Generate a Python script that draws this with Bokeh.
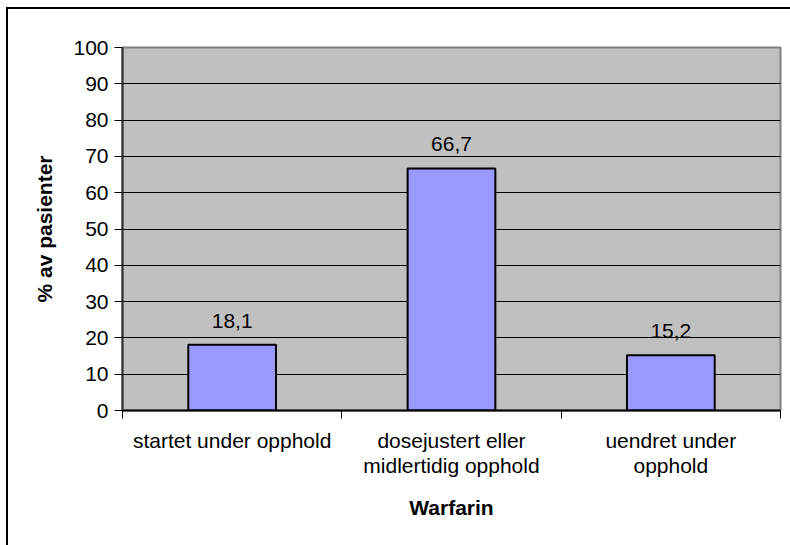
from bokeh.plotting import figure
from bokeh.models import ColumnDataSource, FixedTicker, Range1d, InlineStyleSheet
from bokeh.core.properties import value
from bokeh.embed import file_html
from bokeh.resources import INLINE

# Warfarin status during stay, share of patients (%)
categories = ["startet under opphold",
              "dosejustert eller\nmidlertidig opphold",
              "uendret under\nopphold"]
percent = [18.1, 66.7, 15.2]
value_labels = ["18,1", "66,7", "15,2"]
y_ticks = list(range(0, 101, 10))

FONT = "Liberation Sans"
FS = "21px"

centers = [i + 0.5 for i in range(len(categories))]
source = ColumnDataSource(dict(x=centers, top=percent, label=value_labels))

p = figure(width=790, height=545, output_backend="svg", toolbar_location=None,
           x_range=Range1d(0, len(categories)), y_range=Range1d(0, 100),
           min_border_left=122, min_border_right=10,
           min_border_top=47, min_border_bottom=135)

p.background_fill_color = "#C0C0C0"
p.border_fill_color = "white"
p.outline_line_color = "#808080"
p.outline_line_width = 2

p.vbar(x="x", top="top", width=0.4, bottom=0, source=source,
       fill_color="#9999FF", line_color="black", line_width=2)

p.text(x="x", y="top", text="label", source=source,
       text_align="center", text_baseline="alphabetic", y_offset=-24,
       text_font=value(FONT), text_font_size=FS, text_color="black")

# y axis
p.yaxis.ticker = FixedTicker(ticks=y_ticks)
p.yaxis.axis_label = "% av pasienter"
p.yaxis.axis_label_text_font = FONT
p.yaxis.axis_label_text_font_style = "bold"
p.yaxis.axis_label_text_font_size = FS
p.yaxis.axis_label_text_color = "black"
p.yaxis.axis_label_standoff = 14
p.yaxis.major_label_text_font = FONT
p.yaxis.major_label_text_font_size = FS
p.yaxis.major_label_text_color = "black"
p.yaxis.major_label_standoff = 6
p.yaxis.major_tick_out = 8
p.yaxis.major_tick_in = 0
p.yaxis.major_tick_line_color = "black"
p.yaxis.minor_tick_out = 0
p.yaxis.minor_tick_in = 0
p.yaxis.axis_line_color = "#303030"
p.yaxis.axis_line_width = 2

# x axis: labels at category centres, tick marks at category boundaries
p.xaxis.ticker = FixedTicker(ticks=centers,
                             minor_ticks=list(range(len(categories) + 1)))
p.xaxis.major_label_overrides = {c: lab for c, lab in zip(centers, categories)}
p.xaxis.major_label_text_font = FONT
p.xaxis.major_label_text_font_size = FS
p.xaxis.major_label_text_color = "black"
p.xaxis.major_label_text_line_height = 1.1
p.xaxis.major_label_standoff = 10
p.xaxis.major_tick_out = 0
p.xaxis.major_tick_in = 0
p.xaxis.minor_tick_out = 8
p.xaxis.minor_tick_in = 0
p.xaxis.minor_tick_line_color = "black"
p.xaxis.axis_line_color = "black"
p.xaxis.axis_line_width = 2
p.xaxis.axis_label = "Warfarin"
p.xaxis.axis_label_text_font = FONT
p.xaxis.axis_label_text_font_style = "bold"
p.xaxis.axis_label_text_font_size = FS
p.xaxis.axis_label_text_color = "black"
p.xaxis.axis_label_standoff = 16

p.xgrid.grid_line_color = None
p.ygrid.ticker = FixedTicker(ticks=y_ticks)
p.ygrid.grid_line_color = "black"
p.ygrid.grid_line_width = 1

# frame around the whole chart area (its right and bottom edges lie past the page)
p.stylesheets.append(InlineStyleSheet(css="""
:host::after {
  content: "";
  position: absolute;
  left: 6px; top: 7px; right: 0; bottom: 0;
  border-left: 2px solid black;
  border-top: 2px solid black;
  pointer-events: none;
}
"""))

open("out.html", "w").write(file_html(p, INLINE))
